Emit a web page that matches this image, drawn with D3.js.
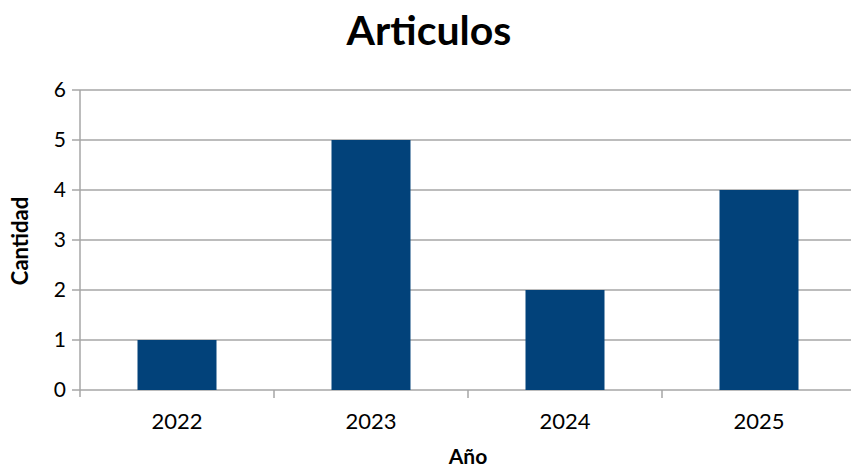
<!DOCTYPE html>
<html><head><meta charset="utf-8">
<script src="https://cdn.jsdelivr.net/npm/d3@7"></script>
<style>body{margin:0;background:#fff}svg{display:block}text{font-family:Lato,"Open Sans",sans-serif;fill:#000}</style>
</head><body><svg id="c" width="851" height="470"></svg>
<script>
const categories = ["2022","2023","2024","2025"];
const values = [1,5,2,4];
const yTicks = [0,1,2,3,4,5,6];
const title = "Articulos";
const xTitle = "Año";
const yTitle = "Cantidad";

const svg = d3.select("#c");
const m = {left:80, top:90, right:-5, bottom:80};
const W = 851, H = 470;
const x = d3.scaleBand().domain(categories).range([m.left, W - m.right]).paddingInner(0).paddingOuter(0);
const y = d3.scaleLinear().domain([0,6]).range([390, 90]);

// gridlines
svg.append("g").selectAll("line").data(yTicks).join("line")
  .attr("x1", 72).attr("x2", W).attr("y1", d=>y(d)).attr("y2", d=>y(d))
  .attr("stroke", "#a6a6a6").attr("stroke-width", 1.5);

// bars
const bw = 79;
svg.append("g").selectAll("rect").data(values).join("rect")
  .attr("x", (d,i)=> x(categories[i]) + x.bandwidth()/2 - bw/2)
  .attr("width", bw)
  .attr("y", d=>y(d)).attr("height", d=>y(0)-y(d))
  .attr("fill", "#02427a");

// y axis
const ya = svg.append("g").attr("transform", `translate(${m.left},0)`)
  .call(d3.axisLeft(y).tickValues(yTicks).tickFormat(d3.format("d")).tickSize(0).tickPadding(14));
ya.select(".domain").remove();
ya.append("line").attr("x1",0).attr("x2",0).attr("y1",y(6)).attr("y2",y(0)+7).attr("stroke","#a6a6a6").attr("stroke-width",1.5);
ya.selectAll("text").attr("font-size", 21).attr("fill","#000").attr("font-family","Lato");

// x axis
const xa = svg.append("g").attr("transform", `translate(0,${y(0)})`)
  .call(d3.axisBottom(x).tickSize(0).tickPadding(23));
xa.select(".domain").remove();
xa.selectAll("text").attr("font-size", 22).attr("fill","#000").attr("font-family","Lato");
xa.selectAll(".sep").data(categories.slice(1)).join("line")
  .attr("x1", d=>x(d)).attr("x2", d=>x(d)).attr("y1",0).attr("y2",8)
  .attr("stroke","#a6a6a6").attr("stroke-width",1.5);

// titles
svg.append("text").attr("x", 429).attr("y", 45).attr("text-anchor","middle")
  .attr("font-size", 41).attr("font-weight","bold").text(title);
svg.append("text").attr("x", 468).attr("y", 464).attr("text-anchor","middle")
  .attr("font-size", 21).attr("font-weight","bold").text(xTitle);
svg.append("text").attr("transform","translate(28,241) rotate(-90)").attr("text-anchor","middle")
  .attr("font-size", 22).attr("font-weight","bold").text(yTitle);
</script></body></html>
